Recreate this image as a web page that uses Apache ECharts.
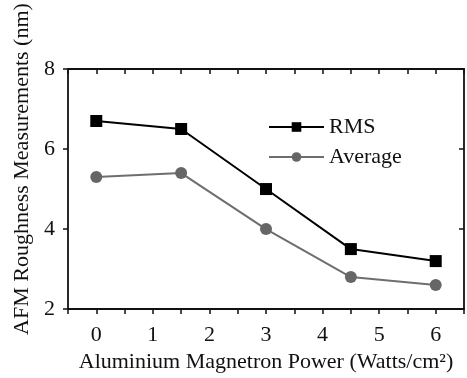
<!DOCTYPE html>
<html>
<head>
    <meta charset="utf-8">
    <title>AFM Roughness</title>
    <script src="https://cdn.jsdelivr.net/npm/echarts/dist/echarts.min.js"></script>
</head>
<body style="margin:0;background:#fff;">
    <div id="main" style="width: 467px; height: 378px;"></div>
    <script type="text/javascript">
        // data
        var power = [0, 1.5, 3, 4.5, 6];
        var rms = [6.7, 6.5, 5.0, 3.5, 3.2];
        var average = [5.3, 5.4, 4.0, 2.8, 2.6];

        var font = "'Liberation Serif', 'Times New Roman', serif";

        function pairs(ys) {
            return power.map(function (x, i) { return [x, ys[i]]; });
        }

        var chart = echarts.init(document.getElementById('main'));

        var xBase = {
            type: 'value',
            min: -0.5,
            max: 6.5,
            interval: 0.5,
            splitLine: { show: false },
            axisLine: { onZero: false, lineStyle: { color: '#111', width: 1.8 } }
        };
        var yBase = {
            type: 'value',
            min: 2,
            max: 8,
            interval: 2,
            splitLine: { show: false },
            axisLine: { onZero: false, lineStyle: { color: '#111', width: 1.8 } }
        };

        var option = {
            animation: false,
            backgroundColor: '#fff',
            grid: { left: 68, top: 69, right: -3, bottom: 68 },
            legend: {
                orient: 'vertical',
                left: 268,
                top: 116,
                padding: 0,
                itemWidth: 55,
                itemHeight: 12,
                itemGap: 8,
                textStyle: { fontFamily: font, fontSize: 22, color: '#111' },
                data: ['RMS', 'Average']
            },
            xAxis: [
                Object.assign({}, xBase, {
                    position: 'bottom',
                    name: 'Aluminium Magnetron Power (Watts/cm²)',
                    nameLocation: 'middle',
                    nameGap: 37,
                    nameTextStyle: { fontFamily: font, fontSize: 22, color: '#111' },
                    axisTick: { length: 5, lineStyle: { color: '#111', width: 1.5 } },
                    axisLabel: {
                        margin: 15,
                        fontFamily: font,
                        fontSize: 22,
                        color: '#111',
                        formatter: function (v) {
                            return (Math.abs(v - Math.round(v)) < 1e-6 && v >= 0 && v <= 6) ? String(Math.round(v)) : '';
                        }
                    }
                }),
                Object.assign({}, xBase, {
                    position: 'top',
                    axisTick: { inside: true, length: 5, lineStyle: { color: '#111', width: 1.5 } },
                    axisLabel: { show: false }
                })
            ],
            yAxis: [
                Object.assign({}, yBase, {
                    position: 'left',
                    name: 'AFM Roughness Measurements (nm)',
                    nameLocation: 'middle',
                    nameGap: 34,
                    nameTextStyle: { fontFamily: font, fontSize: 22, color: '#111', padding: [0, 0, 0, 40] },
                    axisTick: { length: 5, lineStyle: { color: '#111', width: 1.5 } },
                    axisLabel: { margin: 13, fontFamily: font, fontSize: 22, color: '#111' }
                }),
                Object.assign({}, yBase, {
                    position: 'right',
                    axisTick: { inside: true, length: 5, lineStyle: { color: '#111', width: 1.5 } },
                    axisLabel: { show: false }
                })
            ],
            series: [
                {
                    name: 'RMS',
                    type: 'line',
                    data: pairs(rms),
                    symbol: 'rect',
                    symbolSize: 12,
                    lineStyle: { color: '#000', width: 2 },
                    itemStyle: { color: '#000' }
                },
                {
                    name: 'Average',
                    type: 'line',
                    data: pairs(average),
                    symbol: 'circle',
                    symbolSize: 12,
                    lineStyle: { color: '#6e6e6e', width: 2 },
                    itemStyle: { color: '#666' }
                }
            ]
        };

        chart.setOption(option);
    </script>
</body>
</html>
